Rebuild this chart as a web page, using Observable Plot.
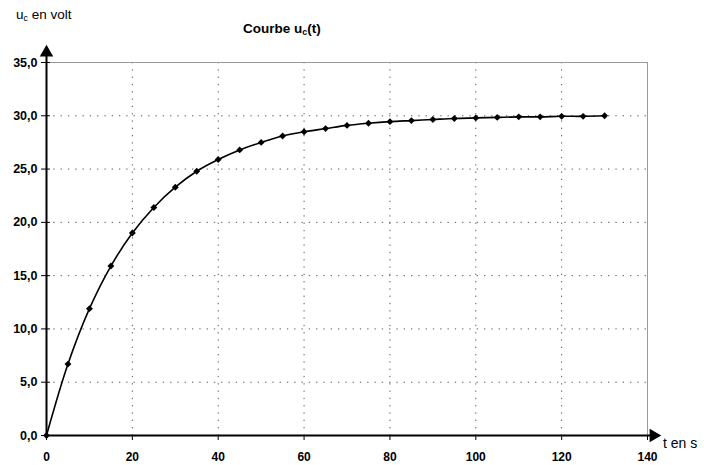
<!DOCTYPE html>
<html>
<head>
<meta charset="utf-8">
<script src="https://cdn.jsdelivr.net/npm/d3@7"></script>
<script src="https://cdn.jsdelivr.net/npm/@observablehq/plot@0.6"></script>
<style>
  body { margin: 0; background: #fff; }
  #wrap { position: relative; width: 704px; height: 465px; font-family: Arial, "Liberation Sans", sans-serif; color: #000; }
  #wrap svg { position: absolute; left: 0; top: 0; }
  .lbl { position: absolute; white-space: nowrap; line-height: 1; }
  .lbl sub { font-size: 0.65em; vertical-align: -2px; line-height: 0; }
</style>
</head>
<body>
<div id="wrap">
  <div class="lbl" style="left:16px; top:8px; font-size:13.5px;">u<sub>c</sub> en volt</div>
  <div class="lbl" style="left:243px; top:22px; font-size:13.5px; font-weight:bold;">Courbe u<sub>c</sub>(t)</div>
  <div class="lbl" style="left:663px; top:436px; font-size:14px;">t en s</div>
</div>
<script>
const times = [0, 5, 10, 15, 20, 25, 30, 35, 40, 45, 50, 55, 60, 65, 70, 75, 80, 85, 90, 95, 100, 105, 110, 115, 120, 125, 130];
const voltages = [0, 6.7, 11.9, 15.9, 19.0, 21.4, 23.3, 24.8, 25.9, 26.8, 27.5, 28.1, 28.5, 28.8, 29.1, 29.3, 29.45, 29.55, 29.65, 29.75, 29.8, 29.85, 29.9, 29.9, 29.95, 29.95, 30.0];
const xTicks = [0, 20, 40, 60, 80, 100, 120, 140];
const yTicks = [0, 5, 10, 15, 20, 25, 30, 35];
const xGrid = [20, 40, 60, 80, 100, 120];
const yGrid = [5, 10, 15, 20, 25, 30];

const data = times.map((t, i) => ({t, u: voltages[i]}));
const fmt = d => d.toFixed(1).replace(".", ",");

const chart = Plot.plot({
  width: 704,
  height: 465,
  marginLeft: 46,
  marginRight: 57,
  marginTop: 62,
  marginBottom: 30,
  style: {fontFamily: 'Arial, "Liberation Sans", sans-serif', fontSize: "12px", color: "#000", background: "transparent"},
  x: {domain: [0, 140]},
  y: {domain: [0, 35]},
  marks: [
    Plot.gridX(xGrid, {stroke: "#555", strokeOpacity: 1, strokeDasharray: "1.3,6"}),
    Plot.gridY(yGrid, {stroke: "#555", strokeOpacity: 1, strokeDasharray: "1.3,6"}),
    Plot.ruleY([yTicks[yTicks.length - 1]], {stroke: "#999", strokeWidth: 1}),
    Plot.ruleX([xTicks[xTicks.length - 1]], {stroke: "#999", strokeWidth: 1}),
    Plot.axisY(yTicks, {tickFormat: fmt, tickSize: 9, dx: 4, tickPadding: 4, fontWeight: "bold", fontSize: 12.5, label: null}),
    Plot.axisX(xTicks, {tickFormat: d => d, tickSize: 5, tickPadding: 12, fontWeight: "bold", fontSize: 12, label: null}),
    Plot.ruleX([0], {stroke: "#000", strokeWidth: 2, insetTop: -10}),
    Plot.ruleY([0], {stroke: "#000", strokeWidth: 2, insetRight: -6}),
    Plot.dot([0], {x: d => d, frameAnchor: "top", dy: -10, symbol: "triangle", r: 5, fill: "#000", stroke: "none"}),
    Plot.dot([0], {y: d => d, frameAnchor: "right", dx: 6, symbol: "triangle", rotate: 90, r: 5, fill: "#000", stroke: "none"}),
    Plot.line(data, {x: "t", y: "u", curve: "catmull-rom", stroke: "#000", strokeWidth: 1.6}),
    Plot.dot(data, {x: "t", y: "u", symbol: "diamond2", r: 3.1, fill: "#000", stroke: "none"})
  ]
});
document.getElementById("wrap").prepend(chart);
</script>
</body>
</html>
